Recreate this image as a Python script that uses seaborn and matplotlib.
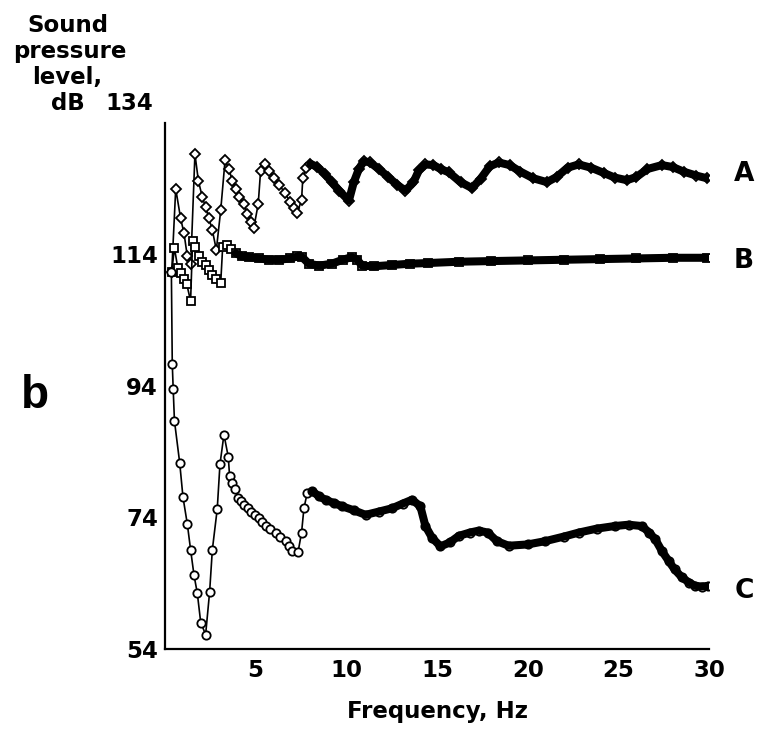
import numpy as np
import matplotlib
matplotlib.use("Agg")
import matplotlib.pyplot as plt
import seaborn as sns

# Curve A: open diamonds
freq_a = [0.37, 0.59, 0.86, 1.05, 1.23, 1.42, 1.65, 1.84, 2.06, 2.24, 2.42, 2.61,
          2.83, 3.07, 3.31, 3.53, 3.71, 3.90, 4.08, 4.35, 4.53, 4.72, 4.90, 5.14,
          5.27, 5.51, 5.73, 6.00, 6.30, 6.60, 6.90, 7.10, 7.29, 7.53, 7.60, 7.80,
          8.02, 8.40, 8.80, 9.20, 9.60, 10.14, 10.41, 10.69, 10.96, 11.30, 11.80,
          12.30, 12.80, 13.26, 13.70, 14.00, 14.36, 14.80, 15.20, 15.65, 16.30,
          16.93, 17.40, 17.90, 18.40, 19.00, 19.60, 20.30, 21.06, 21.60, 22.20,
          22.81, 23.50, 24.20, 24.80, 25.47, 26.00, 26.60, 27.40, 28.00, 28.60,
          29.30, 29.88]
spl_a = [111.4, 124.0, 119.5, 117.2, 113.7, 112.5, 129.3, 125.2, 122.7, 121.2, 119.5, 117.7,
         114.7, 120.7, 128.3, 127.0, 125.2, 124.0, 122.7, 121.7, 120.2, 119.0, 118.1, 121.7,
         126.7, 127.7, 126.7, 125.7, 124.6, 123.4, 122.0, 121.0, 120.3, 122.3, 125.7, 127.2,
         127.8, 127.3, 126.3, 125.0, 123.7, 122.2, 125.0, 127.0, 128.2, 128.0, 127.0,
         125.8, 124.6, 123.7, 125.0, 126.8, 127.7, 127.6, 127.0, 126.5, 125.0,
         124.1, 125.5, 127.4, 128.0, 127.6, 126.6, 125.6, 125.0, 125.8, 127.2,
         127.7, 127.2, 126.4, 125.7, 125.3, 125.8, 127.0, 127.6, 127.3, 126.6,
         126.0, 125.6]

# Curve B: open squares
freq_b = [0.37, 0.52, 0.70, 0.86, 1.05, 1.20, 1.41, 1.52, 1.68, 1.87, 2.06, 2.24,
          2.42, 2.61, 2.83, 3.07, 3.18, 3.44, 3.62, 3.90, 4.26, 4.63, 5.20, 5.73,
          6.30, 6.90, 7.30, 7.56, 7.93, 8.50, 9.20, 9.80, 10.30, 10.60, 10.87,
          11.50, 12.50, 13.50, 14.50, 16.20, 18.00, 20.00, 22.00, 24.00, 26.00,
          28.00, 29.90]
spl_b = [111.4, 115.0, 112.0, 111.2, 110.3, 109.5, 106.9, 116.0, 115.2, 113.7, 112.9, 112.4,
         111.7, 110.9, 110.2, 109.6, 115.2, 115.4, 114.9, 114.2, 113.7, 113.6, 113.4, 113.2,
         113.2, 113.4, 113.7, 113.6, 112.6, 112.3, 112.6, 113.2, 113.6, 113.2, 112.3,
         112.2, 112.4, 112.6, 112.7, 112.9, 113.0, 113.1, 113.2, 113.3, 113.4,
         113.5, 113.5]

# Curve C: open circles
freq_c = [0.35, 0.40, 0.45, 0.52, 0.81, 0.99, 1.23, 1.41, 1.60, 1.78, 1.97, 2.24,
          2.46, 2.61, 2.88, 3.03, 3.25, 3.49, 3.56, 3.70, 3.86, 4.04, 4.20, 4.35,
          4.55, 4.72, 4.95, 5.18, 5.35, 5.55, 5.80, 6.10, 6.35, 6.65, 6.85, 7.01,
          7.34, 7.53, 7.66, 7.84, 8.12, 8.50, 8.85, 9.30, 9.77, 10.40, 11.06, 11.80,
          12.52, 13.10, 13.62, 14.08, 14.36, 14.73, 15.19, 15.70, 16.20, 16.80,
          17.30, 17.80, 18.30, 18.95, 20.00, 20.97, 22.00, 22.81, 23.80, 24.80,
          25.56, 26.29, 26.70, 27.03, 27.40, 27.77, 28.10, 28.50, 28.90, 29.24,
          29.60, 29.97]
spl_c = [111.4, 97.4, 93.6, 88.7, 82.3, 77.1, 73.0, 69.1, 65.2, 62.5, 58.0, 56.2,
         62.7, 69.1, 75.3, 82.1, 86.6, 83.2, 80.3, 79.3, 78.4, 77.0, 76.5, 75.9,
         75.4, 74.9, 74.4, 73.9, 73.3, 72.7, 72.2, 71.7, 71.1, 70.4, 69.7, 68.9,
         68.8, 71.7, 75.4, 77.7, 78.0, 77.2, 76.7, 76.2, 75.7, 75.1, 74.4, 74.9,
         75.4, 76.1, 76.7, 75.7, 72.7, 70.9, 69.6, 70.2, 71.2, 71.7,
         72.0, 71.7, 70.4, 69.7, 69.9, 70.4, 71.1, 71.7, 72.3, 72.7,
         72.9, 72.7, 71.7, 70.7, 68.9, 67.4, 66.1, 64.9, 64.1, 63.6,
         63.5, 63.6]

curve_labels = ["A", "B", "C"]
x_ticks = [5, 10, 15, 20, 25, 30]
y_ticks = [54, 74, 94, 114]

sns.set_style("white")
plt.rcParams['font.family'] = ['DejaVu Sans']
plt.rcParams['font.weight'] = 'bold'
for key in ['text.color', 'axes.labelcolor', 'xtick.color', 'ytick.color']:
    plt.rcParams[key] = 'black'

fig = plt.figure(figsize=(7.58, 7.30), dpi=100)
ax = fig.add_axes([0.2177, 0.1110, 0.7177, 0.7205])

series = [
    (freq_a, spl_a, 'D', 5.0, 8.0),
    (freq_b, spl_b, 's', 5.5, 3.9),
    (freq_c, spl_c, 'o', 6.0, 8.1),
]
for freq, spl, mk, ms, dense_from in series:
    freq = np.array(freq)
    spl = np.array(spl)
    # thin line with open markers
    sns.lineplot(x=freq, y=spl, ax=ax, color='black', lw=1.2, sort=False,
                 estimator=None, marker=mk, markersize=ms,
                 markerfacecolor='white', markeredgecolor='black',
                 markeredgewidth=1.3)
    # the densely sampled part looks like a solid band
    m = freq >= dense_from
    sns.lineplot(x=freq[m], y=spl[m], ax=ax, color='black', lw=5.8, sort=False,
                 estimator=None, solid_capstyle='round', solid_joinstyle='round')

ax.set_xlim(0, 30)
ax.set_ylim(54, 134)
ax.set_xticks(x_ticks)
ax.set_xticklabels([str(t) for t in x_ticks])
ax.set_yticks(y_ticks + [134])
ax.set_yticklabels([str(t) for t in y_ticks] + [""])
ax.tick_params(axis='both', direction='in', length=6, width=1.6, colors='black',
               labelsize=16.5)
ax.tick_params(axis='x', pad=7)
ax.tick_params(axis='y', pad=5)
sns.despine(ax=ax)
for side in ['left', 'bottom']:
    ax.spines[side].set_linewidth(1.6)
    ax.spines[side].set_color('black')
ax.grid(False)

ax.set_xlabel("Frequency, Hz", fontsize=16.5, fontweight='bold', labelpad=13)
ax.set_ylabel("")

# y-axis title block at the top left
W, H = 758, 730
title_lines = [("Sound", 68, 32), ("pressure", 70, 58), ("level,", 67, 84), ("dB", 67.5, 110)]
for txt, px, py in title_lines:
    fig.text(px / W, 1 - py / H, txt, ha='center', va='baseline',
             fontsize=16.5, fontweight='bold')
fig.text(153 / W, 1 - 110 / H, "134", ha='right', va='baseline',
         fontsize=16.5, fontweight='bold')

# panel letter
fig.text(35 / W, 1 - 408 / H, "b", ha='center', va='baseline',
         fontsize=33, fontweight='bold', family='Liberation Sans')

# curve labels
for lab, py in zip(curve_labels, [174, 261, 591]):
    fig.text(744 / W, 1 - py / H, lab, ha='center', va='center',
             fontsize=19, fontweight='bold')

fig.savefig("out.png", dpi=100)
